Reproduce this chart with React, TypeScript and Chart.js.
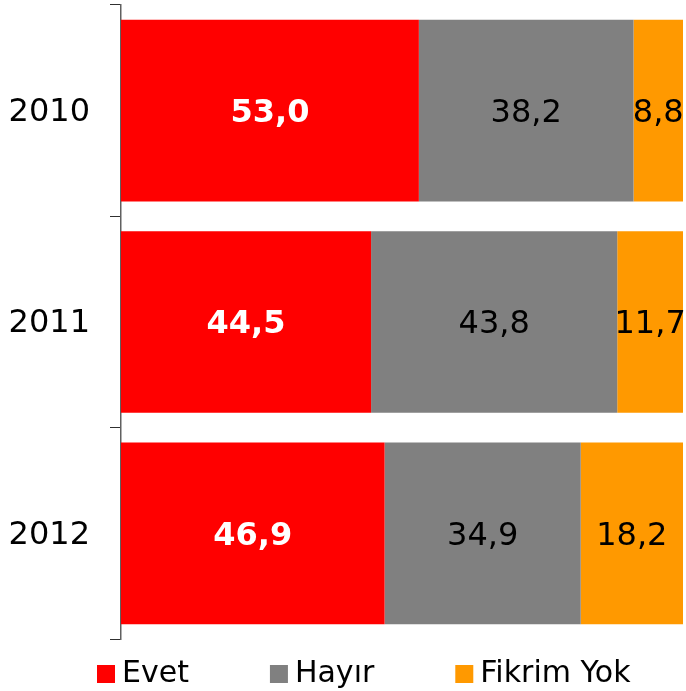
import React, { useEffect, useRef } from 'react';
import { Chart, registerables } from 'chart.js';

Chart.register(...registerables);

const years = ['2010', '2011', '2012'];
const evet = [53.0, 44.5, 46.9];
const hayir = [38.2, 43.8, 34.9];
const fikrimYok = [8.8, 11.7, 18.2];
const seriesLabels = ['Evet', 'Hayır', 'Fikrim Yok'];
const seriesColors = ['#FF0000', '#808080', '#FF9900'];

const FONT = '"DejaVu Sans", Verdana, sans-serif';

const fmt = (v: number) => v.toFixed(1).replace('.', ',');

const barLabels = {
  id: 'barLabels',
  afterDatasetsDraw(chart: any) {
    const ctx = chart.ctx;
    chart.data.datasets.forEach((ds: any, di: number) => {
      const meta = chart.getDatasetMeta(di);
      meta.data.forEach((bar: any, i: number) => {
        const v = ds.data[i];
        const { x, y, base } = bar.getProps(['x', 'y', 'base'], true);
        const cx = (x + base) / 2;
        ctx.save();
        ctx.font = (di === 0 ? 'bold ' : '') + '32px ' + FONT;
        ctx.fillStyle = di === 0 ? '#FFFFFF' : '#000000';
        ctx.textAlign = 'center';
        ctx.textBaseline = 'middle';
        ctx.fillText(fmt(v), cx, y + 3);
        ctx.restore();
      });
    });
  },
};

const bottomLegend = {
  id: 'bottomLegend',
  afterDraw(chart: any, _args: any, opts: any) {
    const ctx = chart.ctx;
    const box = opts.box;
    let x = opts.startX;
    const y = opts.y;
    ctx.save();
    ctx.font = opts.fontSize + 'px ' + FONT;
    ctx.textAlign = 'left';
    ctx.textBaseline = 'middle';
    chart.data.datasets.forEach((ds: any) => {
      ctx.fillStyle = ds.backgroundColor;
      ctx.fillRect(x, y - box / 2, box, box);
      ctx.fillStyle = '#000000';
      const tx = x + box + opts.gap;
      ctx.fillText(ds.label, tx, y);
      x = tx + ctx.measureText(ds.label).width + opts.itemGap;
    });
    ctx.restore();
  },
};

export default function App() {
  const ref = useRef<HTMLCanvasElement>(null);

  useEffect(() => {
    if (!ref.current) return;
    const seriesData = [evet, hayir, fikrimYok];
    const chart = new Chart(ref.current, {
      type: 'bar',
      data: {
        labels: years,
        datasets: seriesLabels.map((label, i) => ({
          label,
          data: seriesData[i],
          backgroundColor: seriesColors[i],
          borderWidth: 0,
          barPercentage: 0.86,
          categoryPercentage: 1,
        })),
      },
      options: {
        indexAxis: 'y',
        responsive: false,
        animation: false,
        layout: { padding: { left: 0, right: 3, top: 5, bottom: 52 } },
        scales: {
          x: { stacked: true, min: 0, max: 100, display: false },
          y: {
            stacked: true,
            grid: {
              display: true,
              drawOnChartArea: false,
              drawTicks: true,
              tickLength: 11,
              color: '#303030',
              offset: true,
            },
            border: { display: true, color: '#606060', width: 1.5 },
            ticks: {
              font: { size: 32, family: FONT },
              color: '#000000',
              padding: 20,
              labelOffset: 2,
            },
            afterFit: (s: any) => {
              s.width = 121;
              s.paddingTop = 0;
              s.paddingBottom = 0;
            },
          },
        },
        plugins: {
          legend: { display: false },
          tooltip: { enabled: false },
          bottomLegend: {
            startX: 97,
            y: 674,
            box: 18,
            gap: 7,
            itemGap: 81,
            fontSize: 30,
          },
        } as any,
      },
      plugins: [barLabels, bottomLegend],
    });
    return () => chart.destroy();
  }, []);

  return (
    <div style={{ position: 'fixed', left: 0, top: 0, width: 686, height: 691, background: '#fff' }}>
      <canvas ref={ref} width={686} height={691} style={{ display: 'block' }} />
    </div>
  );
}
